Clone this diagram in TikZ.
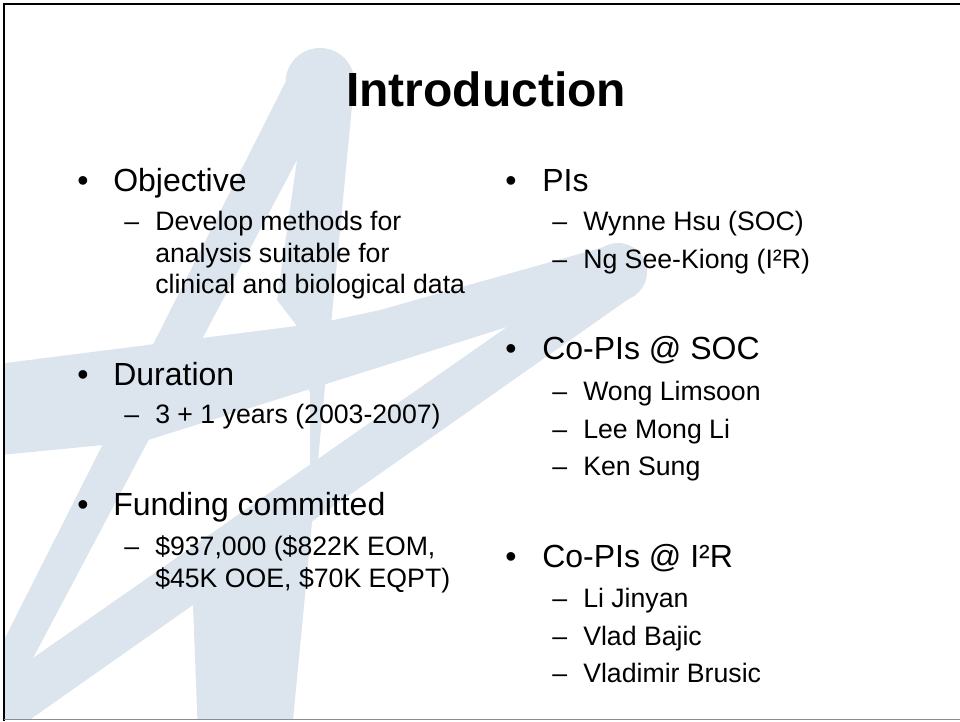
\documentclass[tikz,border=0pt]{standalone}
\usepackage{fontspec}
\setmainfont{Liberation Sans}
\usetikzlibrary{positioning}
\definecolor{starBlue}{RGB}{220,229,237}
\tikzset{
  slidetitle/.style={
    font=\fontsize{36}{43}\selectfont\bfseries,
    inner sep=0pt,
    anchor=base
  },
  levelone/.style={
    font=\fontsize{24}{29}\selectfont,
    inner sep=0pt,
    anchor=base west
  },
  leveltwo/.style={
    font=\fontsize{20}{24}\selectfont,
    inner sep=0pt,
    anchor=base west
  },
  starpart/.style={
    fill=starBlue,
    draw=none
  },
  frameline/.style={
    line width=2.2pt,
    draw=black
  }
}

\begin{document}
\begin{tikzpicture}[x=0.75pt,y=-0.75pt]
\useasboundingbox (0,0) rectangle (960,721);

% background star
\begin{scope}
  \clip (4,4) rectangle (960,719);
  % left leg
  \fill[starpart] (286.5,80) -- (339.4,80) -- (-10.4,740) -- (-46.4,740) -- cycle;
  % right leg
  \fill[starpart] (308.4,80) -- (354.5,80) -- (291.1,740) -- (198.2,740) -- (193,605)
    -- (310,480) -- (310,395) -- (300,330) -- (277,300) -- (297,160) -- cycle;
  \fill[starpart] (320,82.5) circle[radius=34.5];
  % cross bar
  \fill[starpart] (618,243) -- (380,310) -- (320,323) -- (-10,365) -- (-10,456)
    -- (145,441) -- (507,327) -- (625,300) -- cycle;
  \fill[starpart] (618,272) circle[radius=29];
  % lower bar
  \fill[starpart] (-10,688) -- (600,262) -- (630,298) -- (-10,747.6) -- cycle;
\end{scope}

% slide frame
\draw[frameline] (4,721) -- (4,4) -- (960,4);
\draw[black!45, line width=0.8pt] (4,719.6) -- (960,719.6);

\node[slidetitle] (title) at (486,106) {Introduction};

% left column
\node[levelone] (dotObj) at (77,191) {•};
\node[levelone] (objective) at (113,191) {Objective};
\node[leveltwo] (dashDev) at (124,230) {–};
\node[leveltwo] (develop) at (155,230) {Develop methods for};
\node[leveltwo] (analysis) at (155,262) {analysis suitable for};
\node[leveltwo] (clinical) at (155,293) {clinical and biological data};

\node[levelone] (dotDur) at (77,385) {•};
\node[levelone] (duration) at (113,385) {Duration};
\node[leveltwo] (dashYears) at (124,423) {–};
\node[leveltwo] (years) at (155,423) {3 + 1 years (2003-2007)};

\node[levelone] (dotFund) at (77,515) {•};
\node[levelone] (funding) at (113,515) {Funding committed};
\node[leveltwo] (dashMoney) at (124,555) {–};
\node[leveltwo] (money) at (155,555) {\$937,000 (\$822K EOM,};
\node[leveltwo] (moneyRest) at (155,587) {\$45K OOE, \$70K EQPT)};

% right column
\node[levelone] (dotPis) at (505,191) {•};
\node[levelone] (pis) at (542,191) {PIs};
\node[leveltwo] (dashHsu) at (552,230) {–};
\node[leveltwo] (hsu) at (583,230) {Wynne Hsu (SOC)};
\node[leveltwo] (dashNg) at (552,268) {–};
\node[leveltwo] (ng) at (583,268) {Ng See-Kiong (I²R)};

\node[levelone] (dotSoc) at (505,359) {•};
\node[levelone] (copisSoc) at (542,359) {Co-PIs @ SOC};
\node[leveltwo] (dashWong) at (552,400) {–};
\node[leveltwo] (wong) at (583,400) {Wong Limsoon};
\node[leveltwo] (dashLee) at (552,438) {–};
\node[leveltwo] (lee) at (583,438) {Lee Mong Li};
\node[leveltwo] (dashSung) at (552,475) {–};
\node[leveltwo] (sung) at (583,475) {Ken Sung};

\node[levelone] (dotIir) at (505,567) {•};
\node[levelone] (copisIir) at (542,567) {Co-PIs @ I²R};
\node[leveltwo] (dashLi) at (552,607) {–};
\node[leveltwo] (li) at (583,607) {Li Jinyan};
\node[leveltwo] (dashBajic) at (552,645) {–};
\node[leveltwo] (bajic) at (583,645) {Vlad Bajic};
\node[leveltwo] (dashBrusic) at (552,682) {–};
\node[leveltwo] (brusic) at (583,682) {Vladimir Brusic};

\end{tikzpicture}
\end{document}
